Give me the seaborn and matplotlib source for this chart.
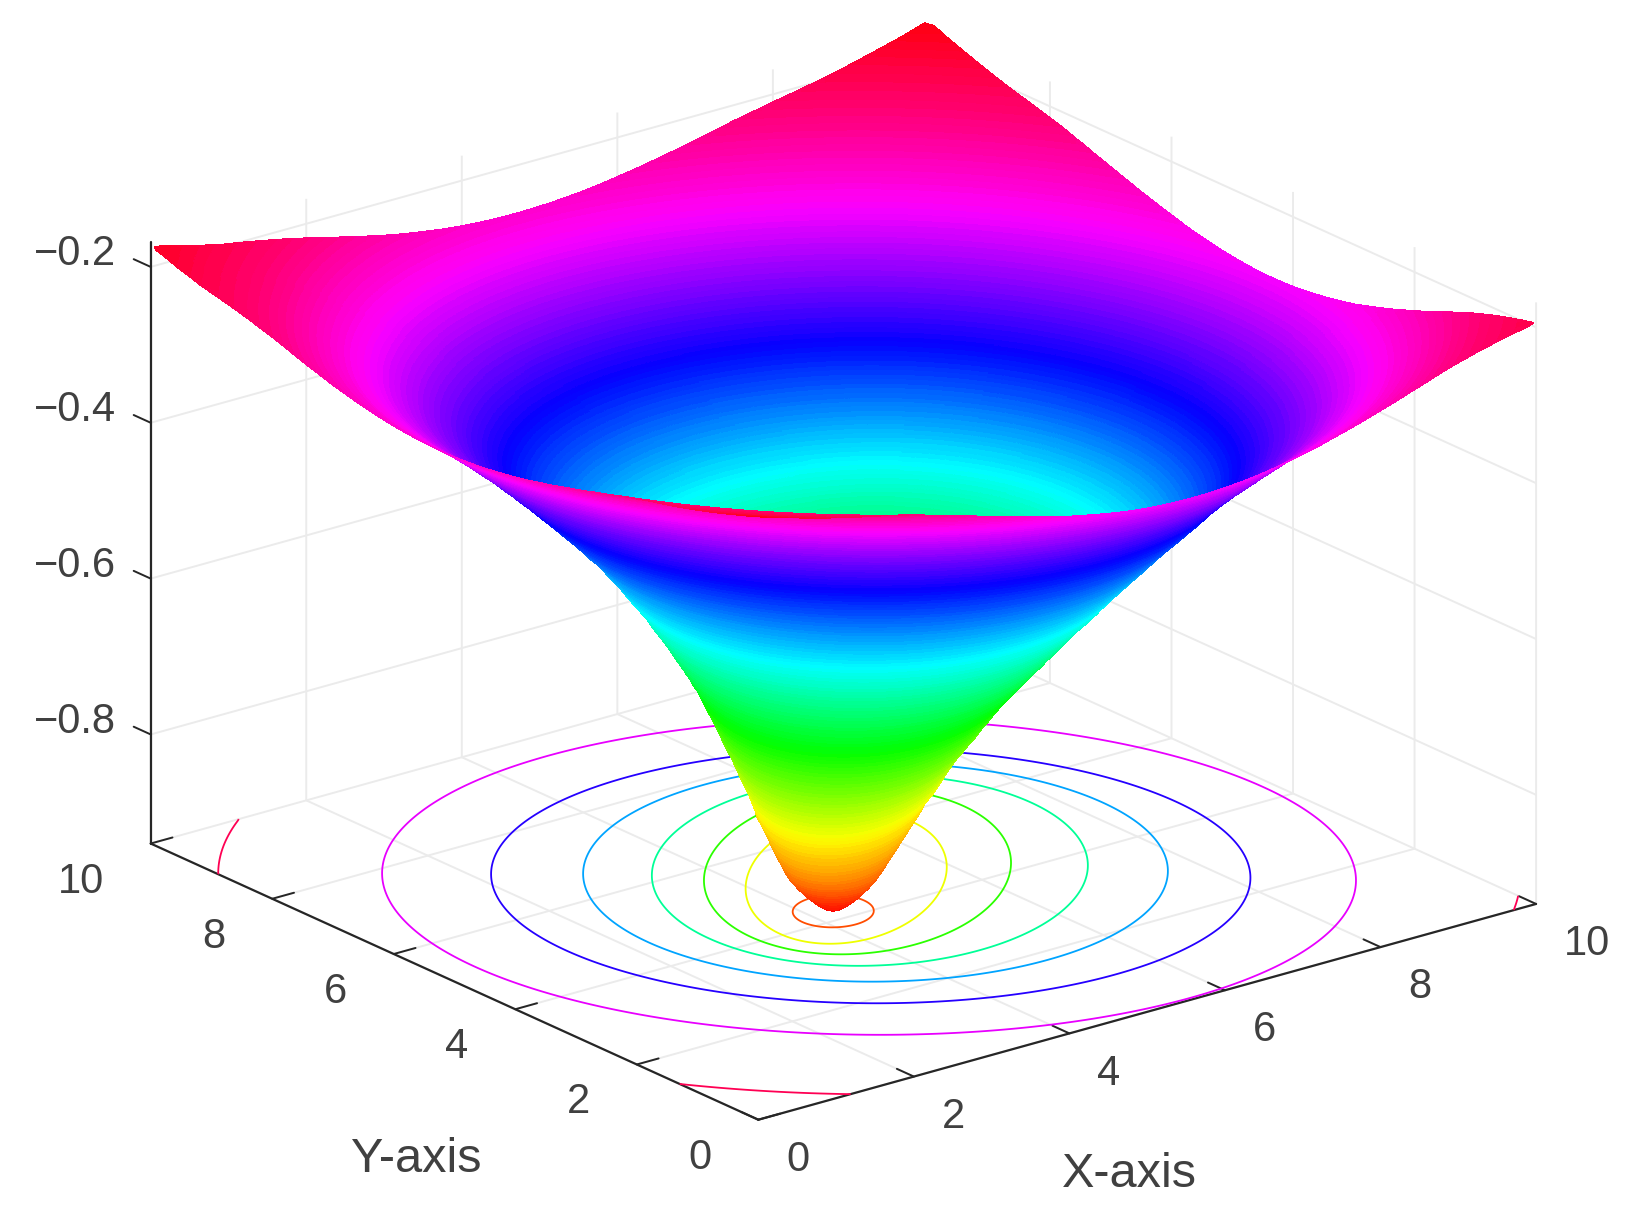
import numpy as np
import matplotlib
matplotlib.use('Agg')
import matplotlib.pyplot as plt
import seaborn as sns

# ring levels, with semi axes along the (1,1) and (1,-1)
# floor diagonals and the ring centre
depth = [-0.940, -0.935, -0.930, -0.925, -0.920, -0.915, -0.910, -0.905, -0.900, -0.895, -0.890, -0.885, -0.880, -0.875, -0.870,
         -0.865, -0.860, -0.855, -0.850, -0.845, -0.840, -0.835, -0.830, -0.825, -0.820, -0.815, -0.810, -0.805,
         -0.800, -0.795, -0.790, -0.785, -0.780, -0.775, -0.770, -0.765, -0.760, -0.755,
         -0.750, -0.745, -0.740, -0.735, -0.730, -0.725, -0.720, -0.715, -0.710, -0.705,
         -0.700, -0.695, -0.690, -0.685, -0.680, -0.675, -0.670, -0.665, -0.660, -0.655,
         -0.650, -0.645, -0.640, -0.635, -0.630, -0.625, -0.620, -0.615, -0.610, -0.605,
         -0.600, -0.595, -0.590, -0.585, -0.580, -0.575, -0.570, -0.565, -0.560, -0.555,
         -0.550, -0.545, -0.540, -0.535, -0.530, -0.525, -0.520, -0.515, -0.510, -0.505,
         -0.500, -0.495, -0.490, -0.485, -0.480, -0.475, -0.470, -0.465, -0.460, -0.455,
         -0.450, -0.445, -0.440, -0.435, -0.430, -0.425, -0.420, -0.415, -0.410, -0.405,
         -0.400, -0.395, -0.390, -0.385, -0.380, -0.375, -0.370, -0.365, -0.360, -0.355,
         -0.350, -0.345, -0.340, -0.335, -0.330, -0.325, -0.320, -0.315, -0.310, -0.305,
         -0.300, -0.295, -0.290, -0.285, -0.280, -0.275, -0.270, -0.265, -0.260, -0.255,
         -0.250, -0.245, -0.240, -0.235, -0.230, -0.225, -0.220, -0.215, -0.210, -0.205,
         -0.200, -0.195, -0.190, -0.185, -0.180, -0.175, -0.170, -0.165, -0.160, -0.155]
semi_a = [0.00, 0.10, 0.17, 0.22, 0.27, 0.32, 0.37, 0.41, 0.46, 0.54, 0.62, 0.71, 0.80, 0.89, 0.98,
          1.06, 1.14, 1.22, 1.29, 1.36, 1.42, 1.49, 1.56, 1.62, 1.68, 1.74, 1.79, 1.84,
          1.89, 1.92, 1.95, 1.98, 2.00, 2.03, 2.05, 2.08, 2.10, 2.13,
          2.15, 2.18, 2.20, 2.22, 2.24, 2.27, 2.29, 2.31, 2.33, 2.35,
          2.37, 2.39, 2.41, 2.43, 2.44, 2.46, 2.48, 2.50, 2.52, 2.54,
          2.55, 2.57, 2.59, 2.61, 2.63, 2.65, 2.66, 2.68, 2.70, 2.72,
          2.73, 2.75, 2.77, 2.79, 2.81, 2.83, 2.84, 2.86, 2.88, 2.90,
          2.92, 2.94, 2.96, 2.98, 3.00, 3.02, 3.04, 3.06, 3.08, 3.10,
          3.12, 3.14, 3.16, 3.19, 3.21, 3.23, 3.25, 3.28, 3.30, 3.33,
          3.35, 3.38, 3.40, 3.43, 3.46, 3.49, 3.52, 3.55, 3.57, 3.60,
          3.63, 3.67, 3.70, 3.74, 3.77, 3.81, 3.84, 3.88, 3.92, 3.96,
          4.00, 4.05, 4.09, 4.14, 4.19, 4.24, 4.29, 4.34, 4.39, 4.45,
          4.50, 4.56, 4.62, 4.68, 4.74, 4.81, 4.87, 4.94, 5.01, 5.09,
          5.16, 5.24, 5.32, 5.41, 5.49, 5.59, 5.68, 5.80, 5.92, 6.06,
          6.20, 6.33, 6.46, 6.58, 6.70, 6.82, 6.94, 7.04, 7.14, 7.30]
semi_b = [0.00, 0.10, 0.16, 0.21, 0.26, 0.30, 0.34, 0.38, 0.41, 0.45, 0.48, 0.51, 0.54, 0.57, 0.60,
          0.63, 0.66, 0.69, 0.72, 0.75, 0.78, 0.81, 0.84, 0.87, 0.89, 0.92, 0.95, 0.98,
          1.00, 1.03, 1.05, 1.08, 1.10, 1.13, 1.15, 1.18, 1.20, 1.23,
          1.26, 1.29, 1.32, 1.35, 1.37, 1.40, 1.43, 1.46, 1.48, 1.51,
          1.54, 1.57, 1.60, 1.63, 1.66, 1.69, 1.72, 1.75, 1.79, 1.82,
          1.85, 1.89, 1.92, 1.96, 1.99, 2.03, 2.06, 2.10, 2.13, 2.17,
          2.20, 2.24, 2.27, 2.31, 2.34, 2.38, 2.42, 2.46, 2.49, 2.53,
          2.57, 2.61, 2.64, 2.68, 2.72, 2.76, 2.80, 2.84, 2.88, 2.92,
          2.96, 3.00, 3.04, 3.08, 3.13, 3.17, 3.21, 3.26, 3.30, 3.35,
          3.39, 3.44, 3.48, 3.53, 3.57, 3.62, 3.66, 3.71, 3.75, 3.80,
          3.85, 3.90, 3.95, 4.00, 4.05, 4.10, 4.15, 4.21, 4.26, 4.32,
          4.37, 4.43, 4.48, 4.54, 4.59, 4.65, 4.70, 4.76, 4.82, 4.88,
          4.94, 5.00, 5.07, 5.13, 5.20, 5.27, 5.33, 5.40, 5.47, 5.54,
          5.61, 5.69, 5.76, 5.84, 5.92, 6.00, 6.09, 6.20, 6.31, 6.45,
          6.60, 6.78, 6.90, 7.05, 7.15, 7.30, 7.45, 7.60, 7.80, 8.00]
centre_x = [4.26, 4.26, 4.26, 4.26, 4.26, 4.26, 4.26, 4.26, 4.26, 4.28, 4.30, 4.33, 4.37, 4.41, 4.45,
            4.49, 4.53, 4.57, 4.61, 4.65, 4.69, 4.73, 4.77, 4.80, 4.84, 4.87, 4.90, 4.93,
            4.95, 4.97, 4.98, 4.99, 5.00, 5.01, 5.02, 5.03, 5.04, 5.05,
            5.06, 5.07, 5.08, 5.09, 5.10, 5.11, 5.12, 5.13, 5.14, 5.15,
            5.15, 5.16, 5.17, 5.18, 5.18, 5.19, 5.20, 5.21, 5.21, 5.22,
            5.22, 5.23, 5.23, 5.24, 5.24, 5.25, 5.25, 5.26, 5.26, 5.27,
            5.27, 5.27, 5.27, 5.27, 5.27, 5.28, 5.28, 5.28, 5.28, 5.28,
            5.28, 5.28, 5.28, 5.28, 5.28, 5.28, 5.28, 5.28, 5.28, 5.28,
            5.28, 5.28, 5.27, 5.27, 5.26, 5.26, 5.25, 5.25, 5.24, 5.24,
            5.23, 5.23, 5.22, 5.22, 5.21, 5.21, 5.20, 5.20, 5.19, 5.19,
            5.18, 5.18, 5.18, 5.18, 5.17, 5.17, 5.17, 5.17, 5.17, 5.17,
            5.16, 5.16, 5.16, 5.16, 5.16, 5.16, 5.15, 5.15, 5.15, 5.15,
            5.15, 5.15, 5.15, 5.15, 5.15, 5.15, 5.15, 5.15, 5.15, 5.15,
            5.15, 5.15, 5.15, 5.15, 5.15, 5.15, 5.15, 5.15, 5.15, 5.15,
            5.15, 5.15, 5.15, 5.15, 5.15, 5.15, 5.15, 5.15, 5.15, 5.15]
centre_y = [4.22, 4.22, 4.22, 4.22, 4.22, 4.22, 4.22, 4.22, 4.22, 4.24, 4.26, 4.29, 4.33, 4.37, 4.41,
            4.45, 4.49, 4.53, 4.57, 4.61, 4.65, 4.69, 4.73, 4.77, 4.80, 4.83, 4.85, 4.87,
            4.89, 4.90, 4.91, 4.92, 4.92, 4.93, 4.93, 4.94, 4.94, 4.94,
            4.94, 4.95, 4.95, 4.95, 4.95, 4.96, 4.96, 4.96, 4.96, 4.96,
            4.96, 4.96, 4.96, 4.96, 4.95, 4.95, 4.95, 4.95, 4.94, 4.94,
            4.94, 4.94, 4.93, 4.93, 4.93, 4.93, 4.92, 4.92, 4.92, 4.92,
            4.91, 4.91, 4.90, 4.90, 4.89, 4.89, 4.88, 4.88, 4.88, 4.88,
            4.87, 4.87, 4.86, 4.86, 4.85, 4.85, 4.85, 4.85, 4.84, 4.84,
            4.83, 4.83, 4.82, 4.82, 4.82, 4.82, 4.81, 4.81, 4.80, 4.80,
            4.80, 4.80, 4.79, 4.79, 4.79, 4.79, 4.79, 4.79, 4.78, 4.78,
            4.78, 4.78, 4.78, 4.78, 4.78, 4.78, 4.77, 4.77, 4.77, 4.77,
            4.77, 4.77, 4.77, 4.77, 4.77, 4.77, 4.77, 4.77, 4.77, 4.77,
            4.77, 4.77, 4.77, 4.77, 4.77, 4.77, 4.77, 4.77, 4.77, 4.77,
            4.77, 4.77, 4.77, 4.77, 4.77, 4.77, 4.77, 4.77, 4.77, 4.77,
            4.77, 4.77, 4.77, 4.77, 4.77, 4.77, 4.77, 4.77, 4.77, 4.77]
contour_levels = [-0.9, -0.8, -0.7, -0.6, -0.5, -0.4, -0.3, -0.2]
x_ticks = [0, 2, 4, 6, 8, 10]
y_ticks = [0, 2, 4, 6, 8, 10]
z_ticks = [-0.8, -0.6, -0.4, -0.2]
z_labels = ['\u22120.8', '\u22120.6', '\u22120.4', '\u22120.2']

sns.set_theme(style='white')
plt.rcParams['font.family'] = ['Liberation Sans', 'DejaVu Sans']
text_color = '#404040'
line_color = '#505050'
z_bottom, z_top = -0.94, -0.168
hsv = sns.color_palette('hsv', as_cmap=True)


def ring_mesh(n_theta=480):
    # rings around the well, cut off at the edge of the 0..10 square
    theta = np.linspace(0, 2 * np.pi, n_theta + 1)[:, None]
    a, b = np.array(semi_a), np.array(semi_b)
    s = np.sqrt(0.5)
    X = np.array(centre_x) + s * (a * np.cos(theta) + b * np.sin(theta))
    Y = np.array(centre_y) + s * (a * np.cos(theta) - b * np.sin(theta))
    Z = np.tile(np.array(depth), (n_theta + 1, 1))
    for j in range(n_theta + 1):
        out = (X[j] < 0) | (X[j] > 10) | (Y[j] < 0) | (Y[j] > 10)
        if not out.any():
            continue
        i = out.argmax()
        x0, y0, x1, y1 = X[j, i - 1], Y[j, i - 1], X[j, i], Y[j, i]
        t = 1.0
        if x1 > 10: t = min(t, (10 - x0) / (x1 - x0))
        if x1 < 0: t = min(t, -x0 / (x1 - x0))
        if y1 > 10: t = min(t, (10 - y0) / (y1 - y0))
        if y1 < 0: t = min(t, -y0 / (y1 - y0))
        X[j, i:] = x0 + t * (x1 - x0)
        Y[j, i:] = y0 + t * (y1 - y0)
        Z[j, i:] = Z[j, i - 1] + t * (Z[j, i] - Z[j, i - 1])
    return X, Y, Z


X, Y, Z = ring_mesh()

fig = plt.figure(figsize=(16.38, 12.23), dpi=100)
ax = fig.add_axes([0.0048, 0.018, 1, 1], projection='3d', computed_zorder=False)
ax.set_proj_type('ortho')
ax.view_init(elev=20.8, azim=-128)
ax.set_box_aspect((1, 1, 0.652), zoom=1.22)

cs = ax.contour(X, Y, Z, levels=contour_levels, zdir='z', offset=z_bottom, cmap=hsv,
                vmin=z_bottom, vmax=z_top, linewidths=1.3, zorder=2)
surf = ax.plot_surface(X, Y, Z, cmap=hsv, vmin=z_bottom, vmax=z_top, rstride=1, cstride=1,
                       linewidth=0, antialiased=False, shade=False, zorder=3)
surf.set_clip_on(False)
cs.set_clip_on(False)

ax.set_xlim(0, 10)
ax.set_ylim(0, 10)
ax.set_zlim(z_bottom, z_top)
ax.set_xticks(x_ticks)
ax.set_yticks(y_ticks)
ax.set_zticks(z_ticks)
ax.set_zticklabels(z_labels)
ax.tick_params(labelsize=30, labelcolor=text_color)
ax.tick_params(axis='x', pad=13)
ax.tick_params(axis='y', pad=19.5)
ax.tick_params(axis='z', pad=3.5)
for lab in ax.get_xticklabels():
    lab.set_ha('left')
    lab.set_va('center')
for lab in ax.get_yticklabels():
    lab.set_ha('right')
    lab.set_va('baseline')
for lab in ax.get_zticklabels():
    lab.set_ha('right')
    lab.set_va('baseline')

for axis in (ax.xaxis, ax.yaxis, ax.zaxis):
    axis.set_pane_color((1, 1, 1, 1))
    axis.pane.set_edgecolor((1, 1, 1, 0))
    axis._axinfo['grid'].update(color='#ebebeb', linewidth=1.4)
    axis._axinfo['axisline']['color'] = line_color
    axis.line.set_linewidth(1.6)
    axis._axinfo['tick'].update(inward_factor=0.0, outward_factor=0.35,
                                linewidth={True: 1.4, False: 1.4}, color=line_color)
# z ticks lean along the y direction in the original
ax.zaxis._get_tickdir = lambda position: 1

fig.text(1081 / 1568, 1 - 1125 / 1171, 'X-axis', fontsize=35, color=text_color, ha='center', va='center')
fig.text(398 / 1568, 1 - 1110 / 1171, 'Y-axis', fontsize=35, color=text_color, ha='center', va='center')

fig.savefig('out.png', dpi=100)
